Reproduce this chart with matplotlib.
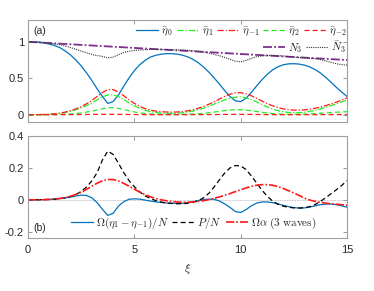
import numpy as np
import matplotlib
matplotlib.use("Agg")
import matplotlib.pyplot as plt

plt.rcParams['font.family'] = ['Liberation Sans', 'DejaVu Sans']
plt.rcParams['mathtext.fontset'] = 'cm'

xi = np.arange(0, 15.001, 0.25)

eta0 = [1.000, 1.000, 0.995, 0.985, 0.970, 0.950, 0.920, 0.875, 0.820, 0.750,
        0.670, 0.575, 0.470, 0.355, 0.250, 0.155, 0.180, 0.270, 0.390, 0.505,
        0.605, 0.685, 0.745, 0.790, 0.815, 0.830, 0.838, 0.838, 0.832, 0.818,
        0.795, 0.760, 0.715, 0.655, 0.585, 0.505, 0.420, 0.330, 0.250, 0.190,
        0.180, 0.225, 0.305, 0.395, 0.480, 0.555, 0.615, 0.658, 0.685, 0.698,
        0.700, 0.695, 0.680, 0.655, 0.620, 0.572, 0.512, 0.445, 0.375, 0.310,
        0.250]
eta1 = [0.000, 0.000, 0.001, 0.003, 0.006, 0.011, 0.019, 0.031, 0.047, 0.068,
        0.094, 0.125, 0.162, 0.205, 0.245, 0.272, 0.272, 0.248, 0.208, 0.163,
        0.122, 0.088, 0.062, 0.043, 0.031, 0.023, 0.019, 0.018, 0.020, 0.026,
        0.036, 0.050, 0.068, 0.090, 0.116, 0.145, 0.175, 0.204, 0.227, 0.241,
        0.243, 0.232, 0.208, 0.175, 0.140, 0.106, 0.077, 0.055, 0.040, 0.031,
        0.027, 0.028, 0.034, 0.045, 0.060, 0.079, 0.101, 0.125, 0.150, 0.175,
        0.200]
etam1 = [0.000, 0.000, 0.001, 0.003, 0.006, 0.012, 0.022, 0.036, 0.055, 0.080,
         0.110, 0.150, 0.195, 0.250, 0.305, 0.345, 0.345, 0.310, 0.260, 0.205,
         0.155, 0.115, 0.085, 0.063, 0.050, 0.042, 0.037, 0.035, 0.037, 0.043,
         0.053, 0.068, 0.088, 0.113, 0.143, 0.178, 0.215, 0.252, 0.282, 0.300,
         0.302, 0.288, 0.260, 0.225, 0.188, 0.152, 0.122, 0.098, 0.080, 0.069,
         0.063, 0.062, 0.066, 0.075, 0.088, 0.105, 0.125, 0.148, 0.172, 0.200,
         0.230]
eta2 = [0.000, 0.000, 0.000, 0.001, 0.001, 0.002, 0.004, 0.007, 0.011, 0.017,
        0.025, 0.036, 0.049, 0.065, 0.082, 0.095, 0.097, 0.088, 0.072, 0.054,
        0.038, 0.025, 0.016, 0.010, 0.006, 0.004, 0.003, 0.003, 0.003, 0.004,
        0.006, 0.009, 0.013, 0.019, 0.027, 0.036, 0.046, 0.056, 0.064, 0.069,
        0.069, 0.064, 0.055, 0.044, 0.033, 0.023, 0.015, 0.010, 0.007, 0.005,
        0.005, 0.006, 0.008, 0.011, 0.015, 0.019, 0.024, 0.029, 0.034, 0.038,
        0.042]
etam2 = [0.000, 0.000, 0.000, 0.000, 0.000, 0.000, 0.000, 0.001, 0.001, 0.002,
         0.002, 0.003, 0.004, 0.005, 0.006, 0.006, 0.006, 0.005, 0.004, 0.003,
         0.002, 0.001, 0.001, 0.000, 0.000, 0.000, 0.000, 0.000, 0.000, 0.000,
         0.000, 0.001, 0.001, 0.001, 0.002, 0.002, 0.003, 0.004, 0.004, 0.005,
         0.005, 0.004, 0.004, 0.003, 0.002, 0.001, 0.001, 0.000, 0.000, 0.000,
         0.000, 0.000, 0.000, 0.000, 0.000, 0.001, 0.001, 0.001, 0.002, 0.002,
         0.002]
Nbar3 = [1.000, 1.000, 0.997, 0.991, 0.982, 0.973, 0.961, 0.942, 0.922, 0.898,
         0.874, 0.850, 0.827, 0.812, 0.800, 0.780, 0.790, 0.822, 0.855, 0.872,
         0.882, 0.888, 0.892, 0.896, 0.896, 0.895, 0.894, 0.891, 0.889, 0.887,
         0.884, 0.878, 0.871, 0.858, 0.844, 0.828, 0.810, 0.786, 0.759, 0.735,
         0.725, 0.745, 0.773, 0.795, 0.808, 0.813, 0.814, 0.811, 0.805, 0.798,
         0.790, 0.785, 0.780, 0.775, 0.768, 0.756, 0.738, 0.718, 0.699, 0.688,
         0.680]
xi_N3 = [0, 3, 6, 9, 12, 15]
N3 = [1.00, 0.95, 0.90, 0.85, 0.80, 0.75]

diff_eta = [0.000, 0.000, 0.000, 0.001, 0.002, 0.004, 0.007, 0.011, 0.017, 0.024,
            0.029, 0.027, 0.012, -0.018, -0.060, -0.098, -0.085, -0.040, -0.012, 0.003,
            0.006, 0.004, -0.002, -0.008, -0.013, -0.017, -0.020, -0.022, -0.023, -0.022,
            -0.018, -0.012, -0.005, 0.001, 0.004, 0.003, -0.008, -0.026, -0.048, -0.074,
            -0.080, -0.062, -0.038, -0.021, -0.014, -0.014, -0.018, -0.026, -0.035, -0.043,
            -0.049, -0.052, -0.051, -0.046, -0.038, -0.031, -0.027, -0.027, -0.031, -0.038,
            -0.047]
P_N = [0.000, 0.000, 0.000, 0.001, 0.002, 0.004, 0.007, 0.012, 0.020, 0.033,
       0.052, 0.080, 0.118, 0.170, 0.250, 0.305, 0.285, 0.230, 0.170, 0.120,
       0.082, 0.050, 0.025, 0.008, -0.005, -0.014, -0.020, -0.023, -0.025, -0.025,
       -0.022, -0.016, -0.006, 0.012, 0.040, 0.080, 0.125, 0.168, 0.200, 0.215,
       0.212, 0.190, 0.150, 0.105, 0.060, 0.022, -0.008, -0.028, -0.040, -0.047,
       -0.051, -0.052, -0.050, -0.043, -0.030, -0.010, 0.013, 0.038, 0.063, 0.090,
       0.120]
Om_alpha = [0.000, 0.000, 0.000, 0.001, 0.002, 0.004, 0.008, 0.014, 0.022, 0.033,
            0.047, 0.065, 0.085, 0.104, 0.119, 0.127, 0.127, 0.118, 0.103, 0.085,
            0.066, 0.048, 0.032, 0.019, 0.008, 0.000, -0.006, -0.011, -0.014, -0.016,
            -0.016, -0.014, -0.011, -0.006, 0.001, 0.009, 0.018, 0.028, 0.039, 0.051,
            0.063, 0.074, 0.084, 0.091, 0.095, 0.095, 0.091, 0.083, 0.071, 0.057,
            0.042, 0.027, 0.010, -0.002, -0.010, -0.016, -0.021, -0.025, -0.028, -0.031,
            -0.034]

blue = '#0072BD'
red = '#FF1A1A'
green = '#22EE22'
purple = '#7E2F8E'
txt = '#262626'
spc = '#A0A0A0'

fig = plt.figure(figsize=(3.74, 2.91), dpi=100)
ax1 = fig.add_axes([0.0749, 0.5808, 0.853, 0.3505])
ax2 = fig.add_axes([0.0749, 0.1821, 0.853, 0.3505])

lw = 0.9
dashdot = (0, (5, 1.5, 1, 1.5))
dashed = (0, (4, 2.5))
ax1.plot(xi, eta0, color=blue, lw=lw, label=r'$\bar{\eta}_0$')
ax1.plot(xi, eta1, color=green, lw=lw, ls=dashdot, label=r'$\bar{\eta}_1$')
ax1.plot(xi, etam1, color=red, lw=lw, ls=dashdot, label=r'$\bar{\eta}_{-1}$')
ax1.plot(xi, eta2, color=green, lw=lw, ls=dashed, label=r'$\bar{\eta}_2$')
ax1.plot(xi, etam2, color=red, lw=lw, ls=dashed, label=r'$\bar{\eta}_{-2}$')
lN3, = ax1.plot(xi_N3, N3, color=purple, lw=1.3, ls=(0, (5, 1.2, 1, 1.2)), label=r'$N_3$')
lNb3, = ax1.plot(xi, Nbar3, color='#333333', lw=0.8, ls=(0, (1, 1)), label=r'$\bar{N}_3$')

ax1.set_xlim(0, 15)
ax1.set_ylim(-0.1, 1.3)
ax1.set_yticks([0, 0.5, 1])
ax1.set_yticklabels(['0', '0.5', '1'])
ax1.set_xticks([0, 5, 10, 15])
ax1.set_xticklabels([])

legkw = dict(frameon=False, fontsize=8, handlelength=2.0, handletextpad=0.25,
             columnspacing=0.35, borderaxespad=0, borderpad=0, labelcolor=txt)
h, l = ax1.get_legend_handles_labels()
leg1 = ax1.legend(h[:5], l[:5], loc='center right', ncol=5,
                  bbox_to_anchor=(0.997, 0.882), **legkw)
ax1.add_artist(leg1)
ax1.legend([lN3, lNb3], [r'$N_3$', r'$\bar{N}_3$'], loc='center right', ncol=2,
           bbox_to_anchor=(0.997, 0.735), **legkw)
ax1.text(0.016, 0.892, '(a)', transform=ax1.transAxes, fontsize=7.5, color=txt,
         va='center', ha='left')

ax2.axhline(0, color='#B0B0B0', lw=0.6, ls=(0, (1, 1)))
ax2.plot(xi, diff_eta, color=blue, lw=lw, label=r'$\Omega(\eta_1-\eta_{-1})/N$')
ax2.plot(xi, P_N, color='black', lw=lw, ls=dashed, label=r'$P/N$')
ax2.plot(xi, Om_alpha, color=red, lw=1.2, ls=(0, (5, 1.2, 1, 1.2)),
         label=r'$\Omega\alpha\ \mathrm{(3\ waves)}$')
ax2.set_xlim(0, 15)
ax2.set_ylim(-0.24, 0.4)
ax2.set_yticks([-0.2, 0, 0.2, 0.4])
ax2.set_yticklabels(['-0.2', '0', '0.2', '0.4'])
ax2.set_xticks([0, 5, 10, 15])
ax2.legend(loc='center left', ncol=3, bbox_to_anchor=(0.134, 0.147), **legkw)
ax2.text(0.016, 0.10, '(b)', transform=ax2.transAxes, fontsize=7.5, color=txt,
         va='center', ha='left')
ax2.set_xlabel(r'$\xi$', fontsize=8.5, color=txt, labelpad=5)

for ax in (ax1, ax2):
    for s in ax.spines.values():
        s.set_color(spc)
        s.set_linewidth(0.8)
    ax.tick_params(direction='in', length=3, width=0.6, color='#888888', top=True, right=True,
                   labelsize=8, labelcolor=txt)
    ax.tick_params(axis='x', pad=5)
    ax.tick_params(axis='y', pad=3)

fig.savefig('out.png', dpi=100)
